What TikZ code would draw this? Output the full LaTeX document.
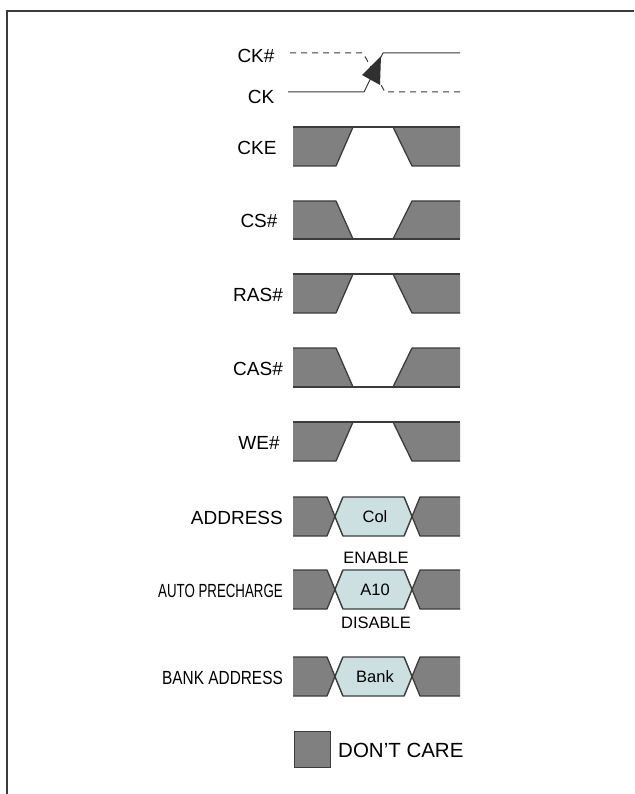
\documentclass[tikz,border=0pt]{standalone}
\usepackage{fontspec}
\setmainfont{Liberation Sans}
\definecolor{dcgray}{RGB}{128,128,128}
\definecolor{edge}{RGB}{60,60,60}
\definecolor{busfill}{RGB}{204,224,226}
\tikzset{
  lbl/.style={font=\fontsize{19}{22}\selectfont, inner sep=0pt},
  sml/.style={font=\fontsize{16.5}{19}\selectfont, inner sep=0pt},
  sigline/.style={draw=edge, line width=1.3pt, line join=round},
  frameline/.style={draw=edge, line width=2pt},
}
\newcommand{\highrow}[3]{% T B name
  \fill[dcgray] (293,#1)--(353,#1)--(336,#2)--(293,#2)--cycle;
  \fill[dcgray] (393,#1)--(460,#1)--(460,#2)--(412,#2)--cycle;
  \path[sigline] (293,#1)--(460,#1);
  \path[sigline] (293,#2)--(336,#2)--(353,#1);
  \path[sigline] (393,#1)--(412,#2)--(460,#2);
  \coordinate (#3) at (293,{(#1+#2)/2});
}
\newcommand{\lowrow}[3]{%
  \fill[dcgray] (293,#1)--(336,#1)--(353,#2)--(293,#2)--cycle;
  \fill[dcgray] (412,#1)--(460,#1)--(460,#2)--(393,#2)--cycle;
  \path[sigline] (293,#2)--(460,#2);
  \path[sigline] (293,#1)--(336,#1)--(353,#2);
  \path[sigline] (393,#2)--(412,#1)--(460,#1);
  \coordinate (#3) at (293,{(#1+#2)/2});
}
\newcommand{\busrow}[4]{% T B name text
  \fill[dcgray] (293,#1)--(327,#1)--(335,{(#1+#2)/2})--(327,#2)--(293,#2)--cycle;
  \fill[dcgray] (412,{(#1+#2)/2})--(420,#1)--(460,#1)--(460,#2)--(420,#2)--cycle;
  \path[sigline] (293,#1)--(327,#1)--(343,#2);
  \path[sigline] (293,#2)--(327,#2)--(343,#1);
  \path[sigline] (460,#1)--(420,#1)--(404,#2);
  \path[sigline] (460,#2)--(420,#2)--(404,#1);
  \path[sigline, fill=busfill] (335,{(#1+#2)/2})--(343,#1)--(404,#1)--(412,{(#1+#2)/2})--(404,#2)--(343,#2)--cycle;
  \node[sml] (#3) at (375,{(#1+#2)/2+0.5}) {#4};
}
\begin{document}
\begin{tikzpicture}[x=1pt,y=-1pt]
\useasboundingbox (0,0) rectangle (634,794);
\fill[white] (0,0) rectangle (634,794);
\path[frameline] (7,794)--(7,11)--(634,11);

% clock
\node[lbl] (ckn) at (256,56) {CK\#};
\node[lbl] (ck) at (261,97) {CK};
\path[sigline, line width=1pt] (288,92)--(364,92)--(383,53)--(460,53);
\path[sigline, line width=1pt, dash pattern=on 6pt off 5pt] (290,53)--(363,53)--(385,92)--(460,92);
\fill[edge!80!black] (362,75)--(381,56)--(380,85)--cycle;

% control rows
\highrow{127}{166}{cke}
\node[lbl] (lcke) at (257,148) {CKE};
\lowrow{201}{239}{cs}
\node[lbl] (lcs) at (259,221) {CS\#};
\highrow{274}{313}{ras}
\node[lbl] (lras) at (258,295) {RAS\#};
\lowrow{348}{387}{cas}
\node[lbl] (lcas) at (258,369) {CAS\#};
\highrow{422}{461}{we}
\node[lbl] (lwe) at (259,443) {WE\#};

% bus rows
\busrow{497}{536}{col}{Col}
\node[lbl, anchor=east] (laddr) at (283,518) {ADDRESS};
\busrow{570}{609}{a10}{A10}
\node[sml] (en) at (376,558) {ENABLE};
\node[sml] (dis) at (376,623) {DISABLE};
\node[lbl, anchor=east] (lap) at (283,591) {\scalebox{0.7}[1]{AUTO PRECHARGE}};
\busrow{657}{696}{bank}{Bank}
\node[lbl, anchor=east] (lba) at (283,678) {\scalebox{0.81}[1]{BANK ADDRESS}};

% legend
\path[fill=dcgray, draw=edge, line width=1pt] (294,731) rectangle (330,767);
\node[lbl, anchor=west, font=\fontsize{20.5}{24}\selectfont] (dc) at (338,750) {DON’T CARE};
\end{tikzpicture}
\end{document}
